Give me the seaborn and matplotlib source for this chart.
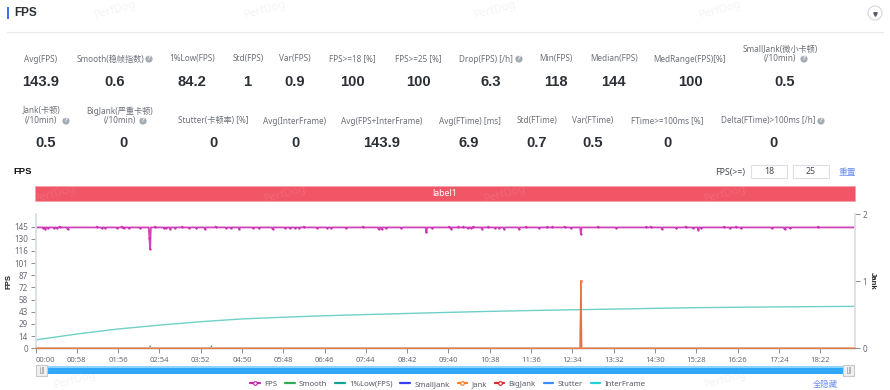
import matplotlib
matplotlib.use("Agg")
import matplotlib.pyplot as plt
from matplotlib.lines import Line2D
from matplotlib.patches import Rectangle, Circle
import numpy as np
import pandas as pd
import seaborn as sns

sns.set_theme(style="white")
FONT = ['Noto Sans', 'Noto Sans CJK SC', 'DejaVu Sans']
BOLD = ['Liberation Sans', 'Noto Sans CJK SC', 'DejaVu Sans']
plt.rcParams['font.family'] = FONT

# ---------- data ----------
end_second = 1151
fps_median = 144
fps_dip_seconds = [11, 14, 18, 26, 30, 34, 45, 86, 93, 98, 115, 121, 124, 131, 147, 160, 161, 168, 180, 183,
                   189, 196, 206, 216, 226, 238, 253, 268, 274, 286, 306, 314, 333, 351, 357, 365, 370, 377,
                   396, 410, 415, 436, 460, 482, 486, 492, 514, 549, 557, 581, 584, 594, 601, 607, 612, 615,
                   627, 636, 645, 651, 658, 679, 689, 707, 719, 726, 743, 752, 766, 790, 816, 858, 864, 880,
                   900, 913, 924, 931, 935, 967, 975, 984, 991, 1034, 1052, 1060, 1099]
fps_dip_values = [143, 142, 143, 143, 143, 145, 142, 145, 143, 143, 143, 145, 143, 143, 143, 132, 118, 145, 143, 143,
                  142, 143, 145, 143, 143, 142, 145, 143, 143, 142, 143, 143, 142, 143, 143, 143, 143, 145,
                  143, 143, 143, 143, 145, 142, 142, 143, 143, 138, 143, 145, 142, 145, 145, 143, 143, 145,
                  142, 145, 143, 143, 142, 142, 145, 143, 145, 145, 145, 143, 136, 145, 143, 145, 145, 142,
                  143, 145, 143, 141, 143, 145, 143, 145, 143, 143, 142, 143, 145]

low_seconds = [0, 58, 116, 174, 232, 290, 348, 406, 464, 522, 580, 638, 696, 754, 812, 870, 928, 986, 1044, 1102, 1151]
low_values = [10.0, 17.0, 23.0, 27.6, 31.7, 35.0, 37.0, 38.8, 40.2, 41.5, 42.8, 44.0, 45.0, 45.9, 46.7, 47.6, 48.4, 48.9, 49.3, 49.7, 50.0]

smooth_seconds = [0, 39, 40, 41, 89, 90, 91, 160, 161, 162, 246, 247, 248, 329, 330, 331, 394, 395, 396, 519, 520, 521,
                  679, 680, 681, 829, 830, 831, 899, 900, 901, 999, 1000, 1001, 1151]
smooth_values = [0, 0, 1, 0, 0, 1, 0, 0, 3, 0, 0, 3, 0, 0, 1, 0, 0, 1, 0, 0, 1, 0,
                 0, 1, 0, 0, 1, 0, 0, 1, 0, 0, 1, 0, 0]

spike_seconds = [0, 765, 766, 767, 1151]
jank_values = [0, 0, 1, 0, 0]
small_jank_values = [0, 0, 1, 0, 0]
flat_seconds = [0, 1151]
big_jank_values = [0, 0]
stutter_values = [0, 0]
interframe_values = [0, 0]

fps_ticks = [0, 14.5, 29, 43.5, 58, 72.5, 87, 101.5, 116, 130.5, 145]
fps_tick_labels = ['0', '14', '29', '43', '58', '72', '87', '101', '116', '130', '145']
jank_ticks = [0, 1, 2]
time_ticks = [0, 58, 116, 174, 232, 290, 348, 406, 464, 522, 580, 638, 696, 754, 812, 870, 928, 986, 1044, 1102]
time_labels = ['00:00', '00:58', '01:56', '02:54', '03:52', '04:50', '05:48', '06:46', '07:44', '08:42',
               '09:40', '10:38', '11:36', '12:34', '13:32', '14:30', '15:28', '16:26', '17:24', '18:22']

legend_names = ['FPS', 'Smooth', '1%Low(FPS)', 'SmallJank', 'Jank', 'BigJank', 'Stutter', 'InterFrame']
legend_colors = ['#c724ad', '#2fae55', '#12a594', '#3c3cf5', '#ff7b26', '#e3202a', '#3f8cff', '#20cfe0']
legend_marked = [True, False, False, False, True, True, False, False]

# name, label x, value text, value x, icon x (or None)
stats_row1 = [
    ('Avg(FPS)', 41, '143.9', 41, None),
    ('Smooth(稳帧指数)', 110, '0.6', 115, 149),
    ('1%Low(FPS)', 192.5, '84.2', 192, None),
    ('Std(FPS)', 248, '1', 247, None),
    ('Var(FPS)', 295, '0.9', 295, None),
    ('FPS>=18 [%]', 352, '100', 352, None),
    ('FPS>=25 [%]', 418, '100', 418, None),
    ('Drop(FPS) [/h]', 486, '6.3', 491, 519),
    ('Min(FPS)', 556, '118', 556, None),
    ('Median(FPS)', 614, '144', 613, None),
    ('MedRange(FPS)[%]', 690, '100', 690, None),
]
stats_row2 = [
    ('Stutter(卡顿率) [%]', 213.5, '0', 213, None),
    ('Avg(InterFrame)', 295, '0', 295, None),
    ('Avg(FPS+InterFrame)', 382, '143.9', 382, None),
    ('Avg(FTime) [ms]', 470, '6.9', 469, None),
    ('Std(FTime)', 537, '0.7', 537, None),
    ('Var(FTime)', 593, '0.5', 593, None),
    ('FTime>=100ms [%]', 667, '0', 667, None),
    ('Delta(FTime)>100ms [/h]', 768, '0', 773, 821),
]
watermarks = [(115, 10), (265, 10), (495, 10), (720, 10), (75, 380), (725, 380)]
band_watermarks = [(55, 194), (285, 194), (505, 194), (725, 194)]

# ---------- figure ----------
W, H = 890, 390
fig = plt.figure(figsize=(W / 100, H / 100), dpi=100, facecolor='white')

page = fig.add_axes([0, 0, 1, 1], zorder=0)
page.set_xlim(0, W)
page.set_ylim(H, 0)
page.axis('off')

LABEL = '#6b7078'
DARK = '#2b2f36'


def label(x, y, s, size=5.9, color=LABEL, ha='center', **kw):
    page.text(x, y, s, fontsize=size, color=color, ha=ha, va='center', **kw)


def value(x, y, s):
    page.text(x, y, s, fontsize=10.6, color=DARK, ha='center', va='center', fontweight='bold', family=BOLD)


def icon(x, y):
    page.add_patch(Circle((x, y), 3.6, color='#a3abb5', lw=0))
    page.text(x, y, '?', fontsize=4.8, color='white', ha='center', va='center', fontweight='bold', family=BOLD)


for wx, wy in watermarks:
    page.text(wx, wy, 'PerfDog', fontsize=8, color='#f4f4f4', rotation=15, ha='center', va='center', zorder=0.5)

page.add_patch(Rectangle((7, 7), 2, 12, color='#3f6ff5', lw=0))
page.text(14, 13, 'FPS', fontsize=8.5, fontweight='bold', color=DARK, va='center', family=BOLD)
page.plot([7, 883], [31.5, 31.5], color='#e8e9ec', lw=0.8)
page.add_patch(Circle((875, 13), 7, fill=False, edgecolor='#d5d6de', lw=0.8))
page.plot([875], [14], marker='v', ms=2.5, color='#555a66')

for name, lx, val, vx, ix in stats_row1:
    label(lx, 59, name)
    value(vx, 82, val)
    if ix:
        icon(ix, 59)
label(780, 49, 'SmallJank(微小卡顿)')
label(780, 59, '(/10min)')
icon(804, 59)
value(785, 82, '0.5')

label(42, 111, 'Jank(卡顿)')
label(41, 121, '(/10min)')
icon(66, 121)
value(46, 143, '0.5')
label(120, 111, 'BigJank(严重卡顿)')
label(120, 121, '(/10min)')
icon(143, 121)
value(124, 143, '0')
for name, lx, val, vx, ix in stats_row2:
    label(lx, 121, name)
    value(vx, 143, val)
    if ix:
        icon(ix, 121)

page.text(13, 172, 'FPS', fontsize=6.8, fontweight='bold', color='#111111', va='center', family=BOLD)
label(730, 172, 'FPS(>=)', size=6.3, color='#444a52')
for bx, txt in ((751, '18'), (793, '25')):
    page.add_patch(Rectangle((bx, 165), 36, 13, facecolor='white', edgecolor='#dcdfe6', lw=0.8))
    label(bx + 18, 171.5, txt, size=6.3, color='#444a52')
label(847, 172, '重置', size=6.3, color='#6f8df5')

page.add_patch(Rectangle((35, 186), 820, 15, facecolor='#f05666', edgecolor='#f6a0a8', lw=0.5))
page.text(445, 193.5, 'label1', fontsize=6.3, color='white', ha='center', va='center')
for wx, wy in band_watermarks:
    page.text(wx, wy, 'PerfDog', fontsize=8, color='white', alpha=0.1, rotation=15, ha='center', va='center', zorder=2)

# slider
page.add_patch(Rectangle((36, 366), 819, 8, facecolor='#2fa9f7', lw=0))
page.add_patch(Rectangle((36, 366), 819, 1.5, facecolor='#8fd2fb', lw=0))
for hx in (36, 843):
    page.add_patch(Rectangle((hx, 364.5), 11, 11, facecolor='#f0f0f0', edgecolor='#c9c9c9', lw=0.8, zorder=3))
    page.plot([hx + 4, hx + 4, hx + 5.5, hx + 5.5, hx + 7, hx + 7], [367, 373, 373, 367, 367, 373],
              color='#9a9a9a', lw=0.5, zorder=4)
label(825, 384, '全隐藏', size=6.0, color='#6f8df5')

# ---------- chart ----------
x0, x1, ytop, ybot = 35.5, 855, 214, 348.3
ax = fig.add_axes([x0 / W, 1 - ybot / H, (x1 - x0) / W, (ybot - ytop) / H], zorder=2)
ax.patch.set_alpha(0)
ax2 = ax.twinx()
ax2.patch.set_alpha(0)

seconds = np.arange(0, end_second + 1)
fps_frame = pd.DataFrame({'t': seconds, 'fps': float(fps_median)})
fps_frame.loc[fps_dip_seconds, 'fps'] = fps_dip_values

sns.lineplot(data=fps_frame, x='t', y='fps', ax=ax, color=legend_colors[0], lw=1.3, alpha=0.85,
             marker='o', ms=1.7, mew=0, markevery=fps_dip_seconds, label='FPS', legend=False, errorbar=None,
             estimator=None, sort=False, zorder=5)
sns.lineplot(x=smooth_seconds, y=smooth_values, ax=ax, color=legend_colors[1], lw=0.7, label='Smooth',
             legend=False, errorbar=None, estimator=None, sort=False, zorder=2)
sns.lineplot(x=low_seconds, y=low_values, ax=ax, color='#6fd0c6', lw=1.0, label='1%Low(FPS)',
             legend=False, errorbar=None, estimator=None, sort=False, zorder=3)
sns.lineplot(x=flat_seconds, y=interframe_values, ax=ax, color=legend_colors[7], lw=0.8, label='InterFrame',
             legend=False, errorbar=None, estimator=None, sort=False, zorder=2, clip_on=False)

sns.lineplot(x=spike_seconds, y=small_jank_values, ax=ax2, color=legend_colors[3], lw=0.8, label='SmallJank',
             legend=False, errorbar=None, estimator=None, sort=False, zorder=2, clip_on=False)
sns.lineplot(x=flat_seconds, y=big_jank_values, ax=ax2, color=legend_colors[5], lw=0.8, label='BigJank',
             legend=False, errorbar=None, estimator=None, sort=False, zorder=3, clip_on=False)
sns.lineplot(x=flat_seconds, y=stutter_values, ax=ax2, color=legend_colors[6], lw=0.8, label='Stutter',
             legend=False, errorbar=None, estimator=None, sort=False, zorder=3, clip_on=False)
sns.lineplot(x=spike_seconds, y=jank_values, ax=ax2, color=legend_colors[4], lw=1.1, alpha=0.85, marker='o', ms=2.2,
             mew=0, markevery=[2], label='Jank', legend=False, errorbar=None, estimator=None, sort=False,
             zorder=4, clip_on=False)

ax.set_xlim(0, end_second)
ax.set_ylim(0, 160)
ax2.set_ylim(0, 2)

AXIS = '#dfe1e8'
TICKC = '#888c94'
for a in (ax, ax2):
    for side, spine in a.spines.items():
        spine.set_visible(side in ('left', 'right', 'bottom'))
        spine.set_color(AXIS)
        spine.set_linewidth(1.2)
ax.set_xticks(time_ticks)
ax.set_xticklabels(time_labels)
ax.set_yticks(fps_ticks)
ax.set_yticklabels(fps_tick_labels)
ax2.set_yticks(jank_ticks)
ax2.set_yticklabels([str(v) for v in jank_ticks])
ax.tick_params(axis='x', length=3.5, width=0.7, color=TICKC, labelsize=5.5, labelcolor='#666b73', pad=3, bottom=True)
ax.tick_params(axis='y', length=3.5, width=0.7, color=TICKC, labelsize=5.8, labelcolor='#666b73', pad=2, left=True)
ax2.tick_params(axis='y', length=3.5, width=0.7, color=TICKC, labelsize=5.8, labelcolor='#666b73', pad=2, right=True)
ax.get_xticklabels()[0].set_ha('left')
ax.set_xlabel('')
ax.set_ylabel('FPS', fontsize=5.6, fontweight='bold', color='#222222', labelpad=1, family=BOLD)
ax2.set_ylabel('Jank', fontsize=5.6, fontweight='bold', color='#222222', rotation=270, labelpad=6, family=BOLD)

handles = [Line2D([], [], color=c, lw=1.6, marker='o' if m else None, ms=2.6, mfc='white', mec=c, mew=0.8)
           for c, m in zip(legend_colors, legend_marked)]
fig.legend(handles, legend_names, ncol=8, loc='center', bbox_to_anchor=(448 / W, 1 - 384 / H), frameon=False,
           fontsize=5.6, labelcolor='#555a62', handlelength=1.25, handletextpad=0.55, columnspacing=1.0,
           borderpad=0, borderaxespad=0)

fig.savefig('out.png', dpi=100)
